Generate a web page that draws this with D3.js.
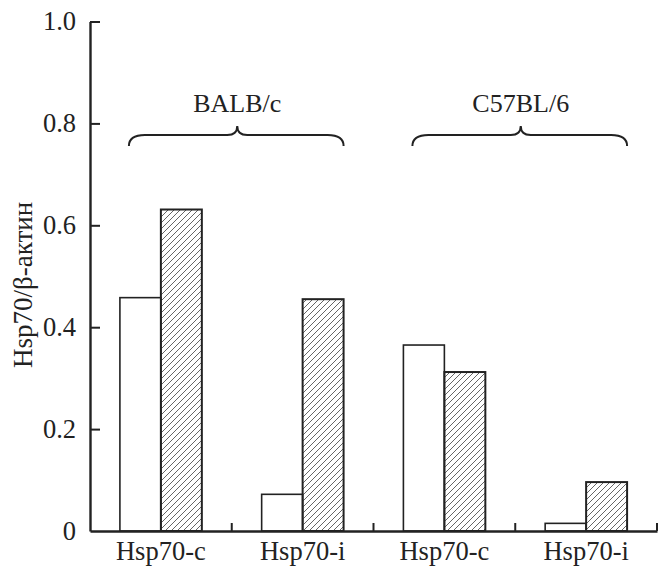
<!DOCTYPE html>
<html><head><meta charset="utf-8">
<script src="https://cdn.jsdelivr.net/npm/d3@7"></script>
<style>body{margin:0;background:#fff}</style>
</head><body><svg id="c" width="665" height="567"></svg>
<script>
const categories = ["Hsp70-c", "Hsp70-i", "Hsp70-c", "Hsp70-i"];
const groups = ["BALB/c", "C57BL/6"];
const groupSpans = [[0, 1], [2, 3]];
const series = ["control", "treated"];
const controlValues = [0.458, 0.072, 0.365, 0.015];
const treatedValues = [0.631, 0.455, 0.312, 0.096];
const yTicks = [0, 0.2, 0.4, 0.6, 0.8, 1.0];
const yTickLabels = ["0", "0.2", "0.4", "0.6", "0.8", "1.0"];
const yTitle = "Hsp70/β-актин";

const svg = d3.select("#c");
const font = "'Liberation Serif', 'Times New Roman', serif";
const ink = "#222";

const x = d3.scaleBand().domain(d3.range(categories.length)).range([90, 657]).padding(0);
const xs = d3.scaleBand().domain(series).range([0, x.bandwidth()]).paddingInner(0).paddingOuter(0.73);
const y = d3.scaleLinear().domain([0, 1]).range([531, 21.5]);

// hatch pattern
const defs = svg.append("defs");
const pat = defs.append("pattern").attr("id", "hatch").attr("patternUnits", "userSpaceOnUse")
  .attr("width", 6).attr("height", 6);
pat.append("path").attr("d", "M0,6 L6,0 M-1.5,1.5 L1.5,-1.5 M4.5,7.5 L7.5,4.5")
  .attr("stroke", "#555").attr("stroke-width", 0.9).attr("fill", "none");

// bars
const data = categories.map((c, i) => ({ i, control: controlValues[i], treated: treatedValues[i] }));
const g = svg.append("g");
data.forEach(d => {
  series.forEach(s => {
    g.append("rect")
      .attr("x", x(d.i) + xs(s))
      .attr("y", y(d[s]))
      .attr("width", xs.bandwidth())
      .attr("height", y(0) - y(d[s]))
      .attr("fill", s === "treated" ? "url(#hatch)" : "#fff")
      .attr("stroke", ink)
      .attr("stroke-width", s === "treated" ? 2 : 1.6);
  });
});

// y axis
const yAxis = d3.axisLeft(y).tickValues(yTicks).tickFormat((d, i) => yTickLabels[i])
  .tickSizeInner(-10).tickSizeOuter(0).tickPadding(14);
const ya = svg.append("g").attr("transform", "translate(90,0)").call(yAxis);
ya.select(".domain").attr("stroke", ink).attr("stroke-width", 2.4);
ya.selectAll(".tick line").attr("stroke", ink).attr("stroke-width", 2)
  .filter(d => d === 0).remove();
ya.selectAll(".tick text").attr("font-family", font).attr("font-size", 26.5).attr("fill", ink);

// x axis
const xAxis = d3.axisBottom(x).tickFormat(i => categories[i]).tickSize(0).tickPadding(10);
const xa = svg.append("g").attr("transform", "translate(0,531)").call(xAxis);
xa.select(".domain").attr("stroke", ink).attr("stroke-width", 2.4);
xa.selectAll(".tick text").attr("font-family", font).attr("font-size", 26.5).attr("fill", ink);
// boundary ticks
xa.selectAll(".bticks").data(d3.range(1, categories.length + 1)).enter().append("line")
  .attr("x1", i => x(i - 1) + x.step()).attr("x2", i => x(i - 1) + x.step())
  .attr("y1", 0).attr("y2", -8).attr("stroke", ink).attr("stroke-width", 2);

// y title
svg.append("text").attr("transform", "translate(32,285) rotate(-90)")
  .attr("text-anchor", "middle").attr("font-family", font).attr("font-size", 27)
  .attr("fill", ink).text(yTitle);

// braces + group labels
function brace(x0, x1, yb, ytop, tip) {
  const r = 10, m = tip;
  return `M${x0},${yb} Q${x0},${ytop} ${x0 + r * 1.6},${ytop} L${m - r},${ytop} Q${m},${ytop} ${m},${ytop - 9}` +
         ` Q${m},${ytop} ${m + r},${ytop} L${x1 - r * 1.6},${ytop} Q${x1},${ytop} ${x1},${yb}`;
}
groups.forEach((name, gi) => {
  const [a, b] = groupSpans[gi];
  const x0 = x(a) + xs("control") + 9;
  const x1 = x(b) + xs("treated") + xs.bandwidth();
  const mid = (x0 + x1) / 2 + 1;
  svg.append("path").attr("d", brace(x0, x1, 146, 135, mid))
    .attr("fill", "none").attr("stroke", ink).attr("stroke-width", 2);
  svg.append("text").attr("x", mid).attr("y", 112).attr("text-anchor", "middle")
    .attr("font-family", font).attr("font-size", 26).attr("fill", ink).text(name);
});
</script>
</body></html>
